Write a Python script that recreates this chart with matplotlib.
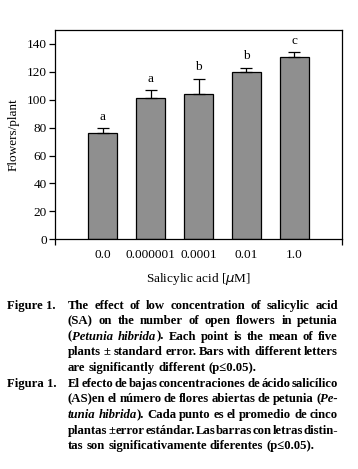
import matplotlib
matplotlib.use("Agg")
import matplotlib.pyplot as plt

# data
concentrations = ["0.0", "0.000001", "0.0001", "0.01", "1.0"]
flowers_mean = [76, 101, 104, 120, 130.5]
flowers_se = [3.5, 6, 11, 3, 3.5]
sig_letters = ["a", "a", "b", "b", "c"]

caption_en = [
    "The effect of low concentration of salicylic acid",
    "(SA) on the number of open flowers in petunia",
    "(*Petunia hibrida*). Each point is the mean of five",
    "plants \u00b1 standard error. Bars with different letters",
    "are significantly different (p\u22640.05).",
]
caption_es = [
    "El efecto de bajas concentraciones de \u00e1cido salic\u00edlico",
    "(AS)en el n\u00famero de flores abiertas de petunia (*Pe-",
    "tunia hibrida*). Cada punto es el promedio de cinco",
    "plantas \u00b1 error est\u00e1ndar. Las barras con letras distin-",
    "tas son significativamente diferentes (p\u22640.05).",
]

W, H = 358, 469
FONT = ["Liberation Serif", "DejaVu Serif"]
plt.rcParams["font.family"] = FONT
TICK_FS = 9.5

fig = plt.figure(figsize=(W / 100, H / 100), dpi=100)
ax = fig.add_axes([55 / W, 1 - 239.3 / H, (342 - 55) / W, (239.3 - 30) / H])

x = list(range(len(concentrations)))
ax.bar(x, flowers_mean, width=0.6, color="#8f8f8f", edgecolor="black", linewidth=0.9)
ax.errorbar(x, flowers_mean, yerr=[[0] * len(x), flowers_se], fmt="none",
            ecolor="black", elinewidth=0.9, capsize=4, capthick=0.9)
for xi, m, e, lab in zip(x, flowers_mean, flowers_se, sig_letters):
    ax.text(xi, m + e + 6, lab, ha="center", va="baseline", fontsize=TICK_FS)

ax.set_xlim(-1, 5)
ax.set_ylim(0, 150)
ax.set_yticks(range(0, 141, 20))
ax.set_xticks(x)
ax.set_xticklabels(concentrations)
ax.tick_params(axis="x", length=0, pad=7, labelsize=TICK_FS)
ax.set_xticks([-1, 5], minor=True)
ax.tick_params(axis="x", which="minor", length=4, width=0.9, direction="out")
ax.tick_params(axis="y", length=4, width=0.9, direction="out", labelsize=TICK_FS, pad=2)
for s in ax.spines.values():
    s.set_linewidth(0.9)
ax.set_ylabel("Flowers/plant", fontsize=TICK_FS, labelpad=5)
ax.set_xlabel("Salicylic acid [$\\mu$M]", fontsize=TICK_FS, labelpad=7)


# justified caption, placed word by word
FS = 9.2
renderer = fig.canvas.get_renderer()


def parse_words(line, italic):
    words = []
    for w in line.split(" "):
        segs = []
        for i, part in enumerate(w.split("*")):
            if i > 0:
                italic = not italic
            if part:
                segs.append((part, italic))
        words.append(segs)
    return words, italic


def draw_line(line, x0, x1, ybase, justify, italic):
    words, italic = parse_words(line, italic)
    placed = []
    widths = []
    for segs in words:
        objs = []
        wsum = 0
        for txt, it in segs:
            t = fig.text(0, 0, txt, fontsize=FS, fontweight="bold",
                         style="italic" if it else "normal",
                         ha="left", va="baseline", transform=None)
            bb = t.get_window_extent(renderer)
            objs.append((t, wsum))
            wsum += bb.width
        placed.append(objs)
        widths.append(wsum)
    space = FS * 100 / 72 * 0.25
    if justify and len(words) > 1:
        gap = (x1 - x0 - sum(widths)) / (len(words) - 1)
    else:
        gap = space
    cx = x0
    for objs, w in zip(placed, widths):
        for t, off in objs:
            t.set_position((cx + off, H - ybase))
        cx += w + gap
    return italic


y0 = 308.5
dy = 15.63
for block, (label, lines) in enumerate([("Figure 1.", caption_en), ("Figura 1.", caption_es)]):
    italic = False
    for i, line in enumerate(lines):
        yb = y0 + (block * len(caption_en) + i) * dy
        if i == 0:
            fig.text(7, H - yb, label, fontsize=FS, fontweight="bold",
                     ha="left", va="baseline", transform=None)
        italic = draw_line(line, 68, 338, yb, i < len(lines) - 1, italic)

fig.savefig("out.png", dpi=100)
